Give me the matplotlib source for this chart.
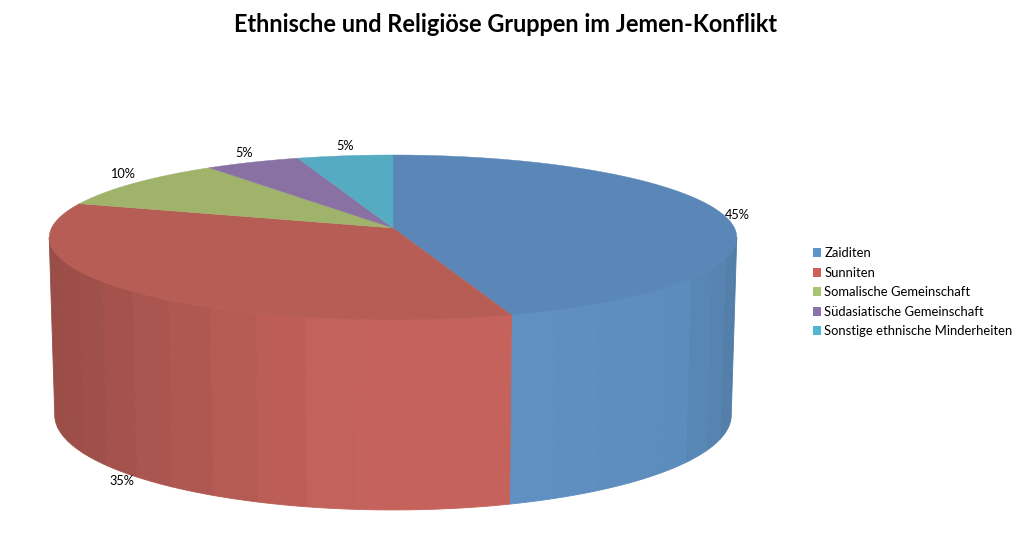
import numpy as np
import matplotlib
matplotlib.use("Agg")
import matplotlib.pyplot as plt
from matplotlib.patches import Patch
from matplotlib.colors import to_rgb

categories = ["Zaiditen", "Sunniten", "Somalische Gemeinschaft",
              "Südasiatische Gemeinschaft", "Sonstige ethnische Minderheiten"]
values = [45, 35, 10, 5, 5]
title = "Ethnische und Religiöse Gruppen im Jemen-Konflikt"

top_colors = ["#5a87b7", "#b65d56", "#9fb36b", "#8a71a3", "#55abc2"]
side_colors = ["#5f91c2", "#c4625b", "#aac173", "#9079ad", "#5cb5cd"]
legend_colors = ["#5f94cc", "#cf5f5b", "#a9c470", "#8a72ae", "#4fb7d0"]

W, H = 1022, 538
fig = plt.figure(figsize=(W / 100, H / 100), dpi=100)
ax = fig.add_axes([0, 0, 1, 1])
ax.set_xlim(0, W)
ax.set_ylim(H, 0)
ax.axis("off")
plt.rcParams["font.family"] = ["Lato", "DejaVu Sans"]

# perspective disc projection
CX = 393
C = 0.115


def project(theta, a, A, B):
    X, Z = np.sin(theta), np.cos(theta)
    d = 1 + C * Z
    return CX + a * X / d, (A * Z + B) / d


def top(theta):
    return project(theta, 341.5, -55.2, 228)


def bottom(theta):
    return project(theta, 336, -47.3, 404)


def shade(theta):
    return np.interp(np.sin(theta), [-1, -0.9, -0.71, -0.4, -0.15, 0.3, 0.76, 0.9, 1],
                     [0.78, 0.80, 0.85, 0.93, 1.0, 1.0, 0.97, 0.91, 0.85])


edges = np.radians(np.cumsum([0] + values) / sum(values) * 360)
vis_lo, vis_hi = np.pi - np.arccos(C), np.pi + np.arccos(C)
band = np.radians(8)

for i in range(len(values)):
    a0, a1 = max(edges[i], vis_lo), min(edges[i + 1], vis_hi)
    if a1 <= a0:
        continue
    n = max(1, int(np.ceil((a1 - a0) / band)))
    b = np.linspace(a0, a1, n + 1)
    base = np.array(to_rgb(side_colors[i]))
    for t0, t1 in zip(b[:-1], b[1:]):
        t = np.linspace(t0, t1, 12)
        tx, ty = top(t)
        bx, by = bottom(t)
        col = tuple(base * shade((t0 + t1) / 2))
        ax.fill(np.r_[tx, bx[::-1]], np.r_[ty, by[::-1]], color=col, lw=0.6, zorder=2)

for i in range(len(values)):
    t = np.linspace(edges[i], edges[i + 1], 160)
    x, y = top(t)
    ax.fill(np.r_[CX, x], np.r_[228, y], color=top_colors[i], lw=0.3, zorder=3)

for lab, x, y in [("45%", 737, 215), ("35%", 122, 481), ("10%", 122, 174),
                  ("5%", 244, 153), ("5%", 345, 146)]:
    ax.text(x, y, lab, ha="center", va="center", fontsize=9.2, color="black", zorder=5)

ax.text(506, 25, title, ha="center", va="center", fontsize=16.95,
        fontweight="bold", color="black")

handles = [Patch(facecolor=c, edgecolor="none") for c in legend_colors]
ax.legend(handles, categories, loc="upper left", bbox_to_anchor=(810 / W, 1 - 244.5 / H),
          frameon=False, fontsize=9.4, handlelength=0.68, handleheight=0.68,
          handletextpad=0.22, labelspacing=0.58, borderpad=0.2, borderaxespad=0)

fig.savefig("out.png", dpi=100, facecolor="white")
